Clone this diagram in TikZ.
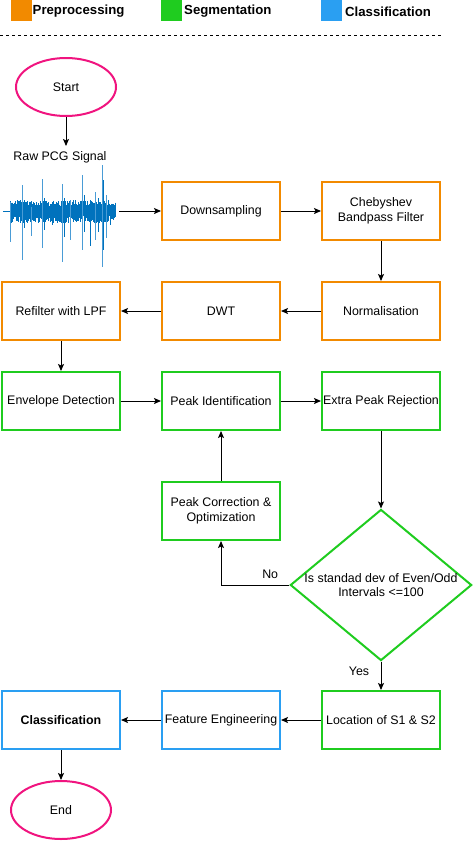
\documentclass[tikz,border=0pt]{standalone}
\usepackage{fontspec}
\setmainfont{Liberation Sans}
\usetikzlibrary{arrows.meta,shapes.geometric}
\definecolor{cpre}{HTML}{F28A00}
\definecolor{cseg}{HTML}{1FCC1F}
\definecolor{ccls}{HTML}{2A9FF2}
\definecolor{cterm}{HTML}{F0147F}
\definecolor{cwave}{HTML}{0072BD}
\definecolor{cwave2}{HTML}{4A9CD6}
\begin{document}
\begin{tikzpicture}[x=1pt,y=-1pt,
  every node/.style={font=\fontsize{12.4}{14.5}\selectfont},
  box/.style={draw,line width=2pt,minimum width=118pt,minimum height=58pt,align=center,inner sep=1pt},
  prebox/.style={box,draw=cpre},
  segbox/.style={box,draw=cseg},
  clsbox/.style={box,draw=ccls},
  term/.style={ellipse,draw=cterm,line width=2pt,minimum width=100pt,minimum height=58pt,inner sep=0pt},
  dec/.style={diamond,draw=cseg,line width=2pt,minimum width=180pt,minimum height=149pt,inner sep=0pt,align=center,aspect=1.2},
  arr/.style={draw=black,line width=1pt,-{Stealth[length=7pt,width=6pt,inset=1.5pt]}},
  leg/.style={minimum size=21pt,inner sep=0pt},
  legt/.style={anchor=west,inner sep=0pt,font=\fontsize{13.2}{15}\selectfont\bfseries}
]
\useasboundingbox (0,0) rectangle (472,841);
% legend
\node[leg,fill=cpre] (l1) at (21.5,10.5) {};
\node[legt] (t1) at (32.5,11.5) {Preprocessing};
\node[leg,fill=cseg] (l2) at (171.5,10.5) {};
\node[legt] (t2) at (184,11.5) {Segmentation};
\node[leg,fill=ccls] (l3) at (331.5,10.5) {};
\node[legt] (t3) at (345,11.5) {Classification};
\coordinate (dl) at (0,35.5);
\coordinate (dr) at (442,35.5);
\draw[line width=0.8pt,dash pattern=on 3pt off 3pt] (dl) -- (dr);

% nodes
\node[term] (start) at (66,87) {Start};
\node (raw) at (60,157) {Raw PCG Signal};
\coordinate (rawtop) at (66,146);
\coordinate (wavend) at (119,211);
\node[prebox] (down) at (221,211) {Downsampling};
\node[prebox] (cheb) at (381,211) {Chebyshev\\Bandpass Filter};
\node[prebox] (norm) at (381,311) {Normalisation};
\node[prebox] (dwt) at (221,311) {DWT};
\node[prebox] (refil) at (61,311) {Refilter with LPF};
\node[segbox] (env) at (61,401) {Envelope Detection};
\node[segbox] (peak) at (221,401) {Peak Identification};
\node[segbox] (extra) at (381,401) {Extra Peak Rejection};
\node[segbox] (corr) at (221,511) {Peak Correction \&\\Optimization};
\node[dec] (dec) at (381,585) {Is standad dev of Even/Odd\\Intervals <=100};
\node[segbox] (loc) at (381,720) {Location of S1 \& S2};
\node[clsbox] (feat) at (221,720) {Feature Engineering};
\node[clsbox,font=\fontsize{12.4}{14.5}\selectfont\bfseries] (cls) at (61,720) {Classification};
\node[term] (end) at (61,810) {End};

% waveform
\pgfmathsetseed{7}
\begin{scope}
\draw[cwave,line width=0.8pt] (3,211) -- (10,211);
\foreach \i in {0,...,210} {
  \pgfmathsetmacro{\xx}{10+\i*0.5}
  \pgfmathsetmacro{\aa}{4+7*rnd}
  \pgfmathsetmacro{\bb}{4+8*rnd}
  \draw[cwave,line width=0.7pt] (\xx,211-\aa) -- (\xx,211+\bb);
}
\foreach \x/\t/\b/\c in {10.5/202/242/cwave2, 12/205/222/cwave, 22/185/260/cwave2, 24/200/228/cwave, 31/207/236/cwave2, 42/179/248/cwave2, 44/198/230/cwave, 52/205/225/cwave, 62/184/262/cwave2, 64/198/237/cwave, 70/200/240/cwave2, 82/175/250/cwave2, 84/195/232/cwave, 90/200/246/cwave, 95/192/240/cwave2, 98/198/232/cwave, 102/165/267/cwave2, 103/180/250/cwave, 106/195/238/cwave2, 110/205/225/cwave}
  {\draw[\c,line width=0.8pt] (\x,\t) -- (\x,\b);}
\end{scope}

% connectors
\draw[arr] (start) -- (rawtop);
\draw[arr] (wavend) -- (down);
\draw[arr] (down) -- (cheb);
\draw[arr] (cheb) -- (norm);
\draw[arr] (norm) -- (dwt);
\draw[arr] (dwt) -- (refil);
\draw[arr] (refil) -- (env);
\draw[arr] (env) -- (peak);
\draw[arr] (peak) -- (extra);
\draw[arr] (extra) -- (dec);
\draw[arr] (dec.west) -| node[pos=0.14,above,yshift=3pt] (no) {No} (corr.south);
\draw[arr] (corr) -- (peak);
\draw[arr] (dec.south) -- node[pos=0.35,left,xshift=-8pt] (yes) {Yes} (loc.north);
\draw[arr] (loc) -- (feat);
\draw[arr] (feat) -- (cls);
\draw[arr] (cls) -- (end);
\end{tikzpicture}
\end{document}
